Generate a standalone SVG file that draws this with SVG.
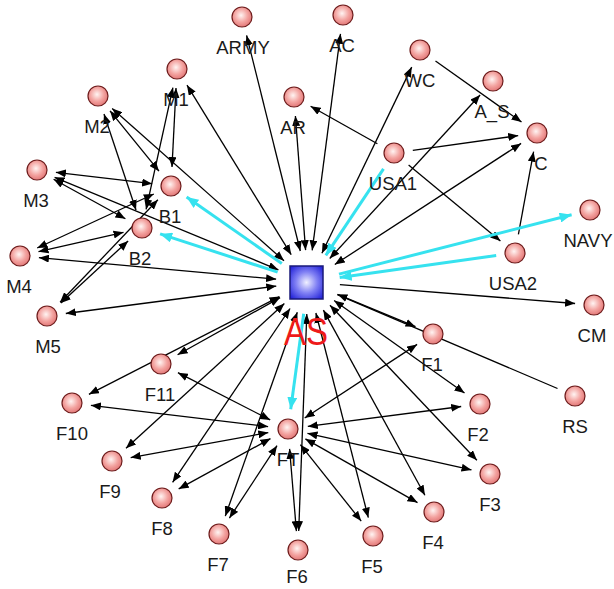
<svg xmlns="http://www.w3.org/2000/svg" width="614" height="589" viewBox="0 0 614 589">
<defs>
<radialGradient id="pg" cx="0.45" cy="0.42" r="0.62"><stop offset="0" stop-color="#fff4f2"/><stop offset="0.55" stop-color="#f3a3a0"/><stop offset="1" stop-color="#e07272"/></radialGradient>
<radialGradient id="bg" cx="0.5" cy="0.5" r="0.65"><stop offset="0" stop-color="#f0f0ff"/><stop offset="0.5" stop-color="#8080f4"/><stop offset="1" stop-color="#2424d8"/></radialGradient>
<marker id="ah" viewBox="0 0 10 8" refX="10" refY="4" markerWidth="10" markerHeight="8" markerUnits="userSpaceOnUse" orient="auto-start-reverse"><path d="M0,0 L10,4 L0,8 z" fill="#000"/></marker>
<marker id="ac" viewBox="0 0 12 10" refX="12" refY="5" markerWidth="12" markerHeight="10" markerUnits="userSpaceOnUse" orient="auto"><path d="M0,0 L12,5 L0,10 z" fill="#36e2ef"/></marker>
</defs>
<style>
.e{stroke:#000;stroke-width:1.3;fill:none}
.b{marker-start:url(#ah);marker-end:url(#ah)}
.o{marker-end:url(#ah)}
.cy{stroke:#36e2ef;stroke-width:3;fill:none;marker-end:url(#ac)}
.n{fill:url(#pg);stroke:#6e1c1c;stroke-width:1.2}
.l{font-family:"Liberation Sans",Arial,sans-serif;font-size:18.5px;fill:#1a1a1a;text-anchor:middle}
</style>
<rect width="614" height="589" fill="#fff"/>
<g id="connectors">
<line class="e b" x1="300.3" y1="251.0" x2="246.6" y2="35.4"/>
<line class="e b" x1="312.2" y1="250.3" x2="340.5" y2="33.8"/>
<line class="e b" x1="305.6" y1="250.1" x2="295.4" y2="116.0"/>
<line class="e b" x1="291.2" y1="254.7" x2="187.0" y2="85.2"/>
<line class="e b" x1="284.0" y1="260.8" x2="112.2" y2="108.6"/>
<line class="e b" x1="321.9" y1="253.2" x2="411.7" y2="67.1"/>
<line class="e b" x1="329.7" y1="258.5" x2="480.1" y2="95.0"/>
<line class="e b" x1="334.8" y1="264.5" x2="521.1" y2="143.4"/>
<line class="e b" x1="278.4" y1="269.8" x2="54.6" y2="177.3"/>
<line class="e b" x1="276.1" y1="279.1" x2="38.9" y2="257.7"/>
<line class="e b" x1="276.3" y1="286.1" x2="65.8" y2="313.5"/>
<line class="e b" x1="337.5" y1="294.3" x2="415.5" y2="326.7"/>
<line class="e b" x1="334.1" y1="300.5" x2="464.5" y2="393.0"/>
<line class="e b" x1="330.0" y1="305.2" x2="476.9" y2="460.2"/>
<line class="e b" x1="323.4" y1="310.1" x2="424.9" y2="495.3"/>
<line class="e b" x1="315.9" y1="313.0" x2="368.3" y2="517.6"/>
<line class="e b" x1="306.8" y1="314.0" x2="298.7" y2="531.0"/>
<line class="e b" x1="297.3" y1="312.2" x2="225.3" y2="516.1"/>
<line class="e b" x1="290.1" y1="308.5" x2="172.6" y2="482.3"/>
<line class="e b" x1="284.4" y1="303.6" x2="126.0" y2="448.2"/>
<line class="e b" x1="279.5" y1="296.6" x2="88.9" y2="394.3"/>
<line class="e b" x1="280.1" y1="297.6" x2="177.6" y2="354.7"/>
<line class="e o" x1="339.9" y1="284.6" x2="575.1" y2="303.5"/>
<line class="e" x1="337.4" y1="294.6" x2="557.5" y2="388.5"/>
<line class="e o" x1="435.5" y1="61.0" x2="521.5" y2="122.0"/>
<line class="e o" x1="412.8" y1="150.4" x2="518.2" y2="135.6"/>
<line class="e o" x1="377.4" y1="143.7" x2="310.6" y2="106.3"/>
<line class="e o" x1="408.6" y1="165.1" x2="500.4" y2="240.9"/>
<line class="e o" x1="518.4" y1="234.3" x2="533.6" y2="151.7"/>
<line class="e b" x1="304.7" y1="418.0" x2="417.1" y2="344.4"/>
<line class="e b" x1="307.8" y1="426.4" x2="461.2" y2="406.5"/>
<line class="e b" x1="307.5" y1="433.3" x2="471.5" y2="469.9"/>
<line class="e b" x1="305.4" y1="438.9" x2="417.5" y2="502.6"/>
<line class="e b" x1="300.4" y1="444.7" x2="361.2" y2="521.1"/>
<line class="e b" x1="289.6" y1="448.9" x2="296.4" y2="531.1"/>
<line class="e b" x1="277.0" y1="445.7" x2="229.4" y2="518.1"/>
<line class="e b" x1="270.5" y1="438.6" x2="178.7" y2="488.9"/>
<line class="e b" x1="268.3" y1="432.6" x2="130.7" y2="457.6"/>
<line class="e b" x1="268.1" y1="426.6" x2="90.9" y2="405.3"/>
<line class="e b" x1="270.2" y1="419.9" x2="177.9" y2="372.7"/>
<line class="e b" x1="176.0" y1="88.0" x2="172.0" y2="167.0"/>
<line class="e b" x1="172.9" y1="87.6" x2="146.1" y2="209.4"/>
<line class="e b" x1="110.0" y1="110.8" x2="159.0" y2="171.2"/>
<line class="e b" x1="104.0" y1="114.0" x2="136.0" y2="210.0"/>
<line class="e b" x1="55.9" y1="172.3" x2="152.1" y2="183.7"/>
<line class="e b" x1="53.6" y1="179.2" x2="125.4" y2="218.8"/>
<line class="e b" x1="37.2" y1="248.0" x2="153.8" y2="194.0"/>
<line class="e b" x1="38.5" y1="251.7" x2="123.5" y2="232.3"/>
<line class="e b" x1="60.1" y1="302.3" x2="157.9" y2="199.7"/>
<line class="e b" x1="60.9" y1="303.1" x2="128.1" y2="240.9"/>
<line class="cy" x1="281.8" y1="263.6" x2="186.6" y2="196.9"/>
<line class="cy" x1="277.6" y1="272.1" x2="160.1" y2="233.9"/>
<line class="cy" x1="383.5" y1="168.8" x2="325.8" y2="255.4"/>
<line class="cy" x1="496.2" y1="255.6" x2="339.7" y2="277.6"/>
<line class="cy" x1="339.0" y1="274.1" x2="571.6" y2="214.7"/>
<line class="cy" x1="303.7" y1="313.7" x2="290.7" y2="409.2"/>
</g>
<g id="n-AS"><rect x="290" y="266" width="33" height="33" fill="url(#bg)" stroke="#1a1a7a" stroke-width="1.5"/><text x="306" y="345" font-family="Liberation Sans, Arial, sans-serif" font-size="39" fill="#ee1a1a" text-anchor="middle" textLength="44" lengthAdjust="spacingAndGlyphs">AS</text></g>
<g id="n-ARMY"><circle class="n" cx="242" cy="17" r="10"/><text class="l" x="243" y="54">ARMY</text></g>
<g id="n-AC"><circle class="n" cx="343" cy="15" r="10"/><text class="l" x="342" y="52">AC</text></g>
<g id="n-M1"><circle class="n" cx="177" cy="69" r="10"/><text class="l" x="176" y="106">M1</text></g>
<g id="n-M2"><circle class="n" cx="98" cy="96" r="10"/><text class="l" x="97" y="133">M2</text></g>
<g id="n-AR"><circle class="n" cx="294" cy="97" r="10"/><text class="l" x="293" y="134">AR</text></g>
<g id="n-WC"><circle class="n" cx="420" cy="50" r="10"/><text class="l" x="420" y="87">WC</text></g>
<g id="n-A_S"><circle class="n" cx="493" cy="81" r="10"/><text class="l" x="492" y="118">A_S</text></g>
<g id="n-C"><circle class="n" cx="537" cy="133" r="10"/><text class="l" x="541" y="170">C</text></g>
<g id="n-USA1"><circle class="n" cx="394" cy="153" r="10"/><text class="l" x="393" y="190">USA1</text></g>
<g id="n-M3"><circle class="n" cx="37" cy="170" r="10"/><text class="l" x="36" y="207">M3</text></g>
<g id="n-B1"><circle class="n" cx="171" cy="186" r="10"/><text class="l" x="170" y="223">B1</text></g>
<g id="n-B2"><circle class="n" cx="142" cy="228" r="10"/><text class="l" x="140" y="265">B2</text></g>
<g id="n-M4"><circle class="n" cx="20" cy="256" r="10"/><text class="l" x="19" y="293">M4</text></g>
<g id="n-NAVY"><circle class="n" cx="590" cy="210" r="10"/><text class="l" x="588" y="247">NAVY</text></g>
<g id="n-USA2"><circle class="n" cx="515" cy="253" r="10"/><text class="l" x="513" y="290">USA2</text></g>
<g id="n-CM"><circle class="n" cx="594" cy="305" r="10"/><text class="l" x="592" y="342">CM</text></g>
<g id="n-M5"><circle class="n" cx="47" cy="316" r="10"/><text class="l" x="48" y="353">M5</text></g>
<g id="n-F1"><circle class="n" cx="433" cy="334" r="10"/><text class="l" x="432" y="371">F1</text></g>
<g id="n-F11"><circle class="n" cx="161" cy="364" r="10"/><text class="l" x="160" y="401">F11</text></g>
<g id="n-F10"><circle class="n" cx="72" cy="403" r="10"/><text class="l" x="72" y="440">F10</text></g>
<g id="n-RS"><circle class="n" cx="575" cy="396" r="10"/><text class="l" x="575" y="433">RS</text></g>
<g id="n-F2"><circle class="n" cx="480" cy="404" r="10"/><text class="l" x="478" y="441">F2</text></g>
<g id="n-FT"><circle class="n" cx="288" cy="429" r="10"/><text class="l" x="288" y="466">FT</text></g>
<g id="n-F9"><circle class="n" cx="112" cy="461" r="10"/><text class="l" x="110" y="498">F9</text></g>
<g id="n-F3"><circle class="n" cx="490" cy="474" r="10"/><text class="l" x="490" y="511">F3</text></g>
<g id="n-F8"><circle class="n" cx="162" cy="498" r="10"/><text class="l" x="162" y="535">F8</text></g>
<g id="n-F4"><circle class="n" cx="434" cy="512" r="10"/><text class="l" x="433" y="549">F4</text></g>
<g id="n-F7"><circle class="n" cx="219" cy="534" r="10"/><text class="l" x="218" y="571">F7</text></g>
<g id="n-F5"><circle class="n" cx="373" cy="536" r="10"/><text class="l" x="372" y="573">F5</text></g>
<g id="n-F6"><circle class="n" cx="298" cy="550" r="10"/><text class="l" x="297" y="583">F6</text></g>
</svg>
